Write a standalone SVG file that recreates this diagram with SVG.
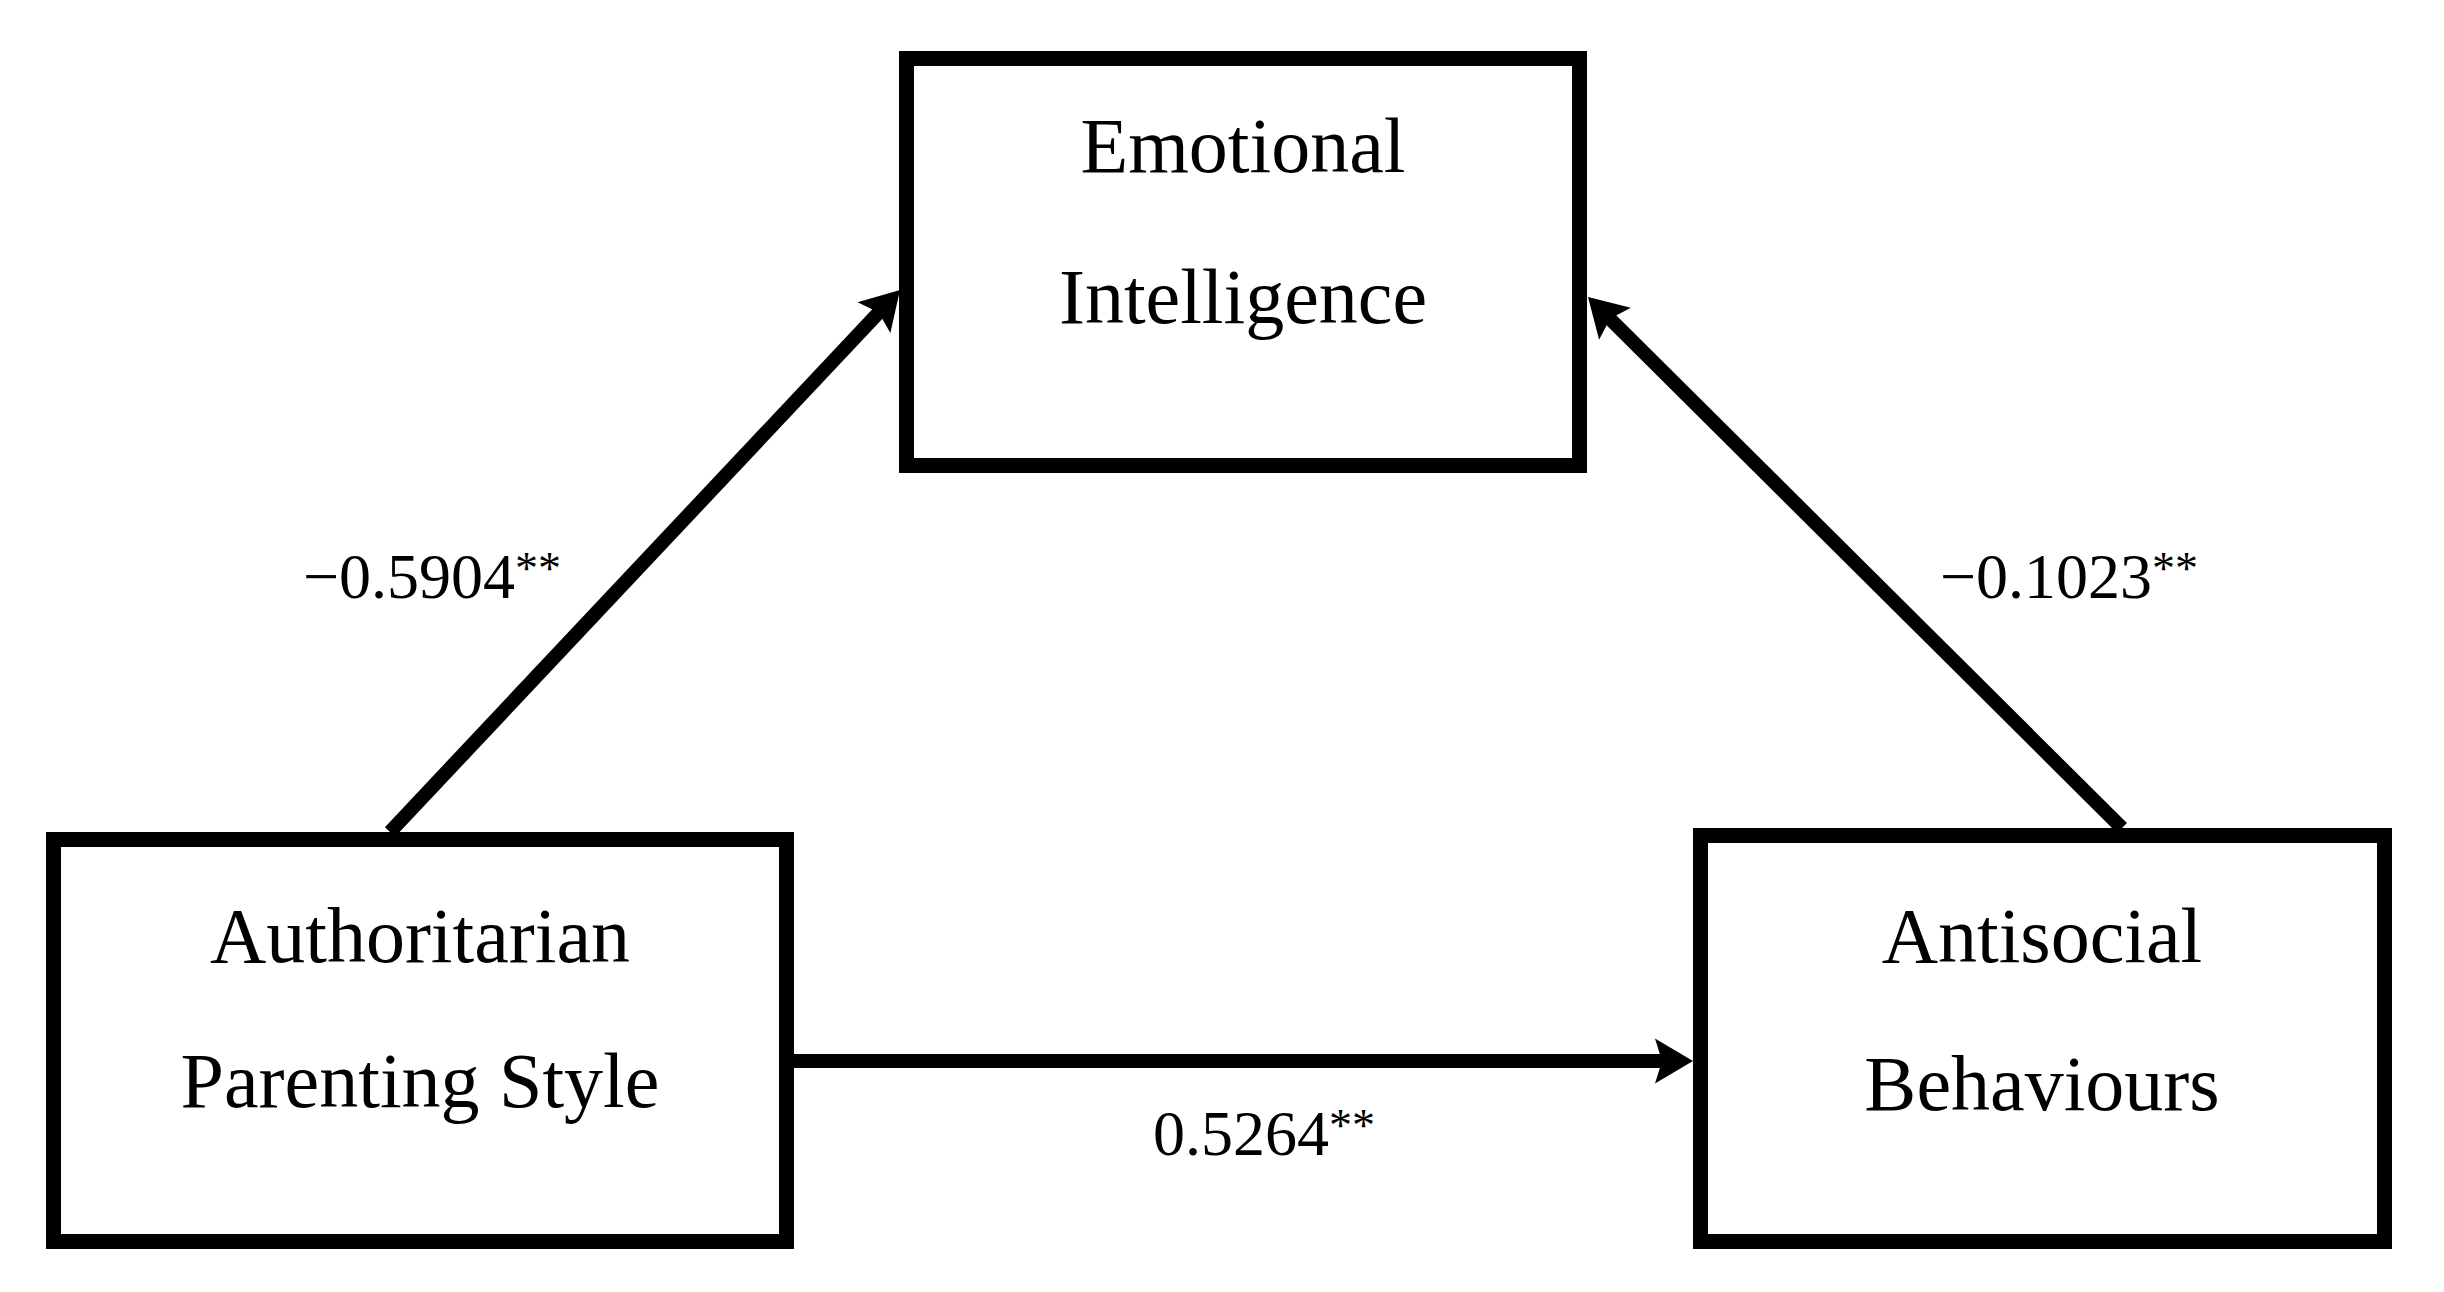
<svg xmlns="http://www.w3.org/2000/svg" width="2444" height="1292" viewBox="0 0 2444 1292">
  <style>
    .box { fill: #ffffff; stroke: #000000; stroke-width: 15; }
    .label { font-family: "Liberation Serif", "Times New Roman", serif; font-size: 78px; fill: #000000; text-anchor: middle; }
    .coef { font-family: "Liberation Serif", "Times New Roman", serif; font-size: 64px; fill: #000000; }
    .star { font-size: 46px; }
    .edge { fill: none; stroke: #000000; stroke-width: 14; stroke-linecap: butt; }
  </style>
  <defs>
    <marker id="arrow" markerUnits="userSpaceOnUse" markerWidth="70" markerHeight="70" viewBox="-35 -35 70 70" refX="0" refY="0" orient="auto" overflow="visible">
      <path d="M20,0 L-18,-22.5 L-11,0 L-18,22.5 Z" fill="#000000"/>
    </marker>
  </defs>
  <rect x="0" y="0" width="2444" height="1292" fill="#ffffff"/>

  <g id="connectors">
    <line class="edge" x1="390" y1="832" x2="886.3" y2="304.5" marker-end="url(#arrow)"/>
    <line class="edge" x1="2122" y1="828" x2="1602.2" y2="311.1" marker-end="url(#arrow)"/>
    <line class="edge" x1="794" y1="1061" x2="1673" y2="1061" marker-end="url(#arrow)"/>
  </g>

  <g id="node-emotional-intelligence">
    <rect class="box" x="906.5" y="58.5" width="673" height="407"/>
    <text class="label" x="1243" y="172">Emotional</text>
    <text class="label" x="1243" y="323">Intelligence</text>
  </g>

  <g id="node-authoritarian-parenting-style">
    <rect class="box" x="53.5" y="839.5" width="733" height="402"/>
    <text class="label" x="420" y="962">Authoritarian</text>
    <text class="label" x="420" y="1107">Parenting Style</text>
  </g>

  <g id="node-antisocial-behaviours">
    <rect class="box" x="1700.5" y="835.5" width="684" height="406"/>
    <text class="label" x="2042" y="962">Antisocial</text>
    <text class="label" x="2042" y="1110">Behaviours</text>
  </g>

  <g id="edge-labels">
    <text class="coef" x="303" y="598">−0.5904<tspan class="star" dy="-14">**</tspan></text>
    <text class="coef" x="1940" y="598">−0.1023<tspan class="star" dy="-14">**</tspan></text>
    <text class="coef" x="1153" y="1155">0.5264<tspan class="star" dy="-14">**</tspan></text>
  </g>
</svg>
